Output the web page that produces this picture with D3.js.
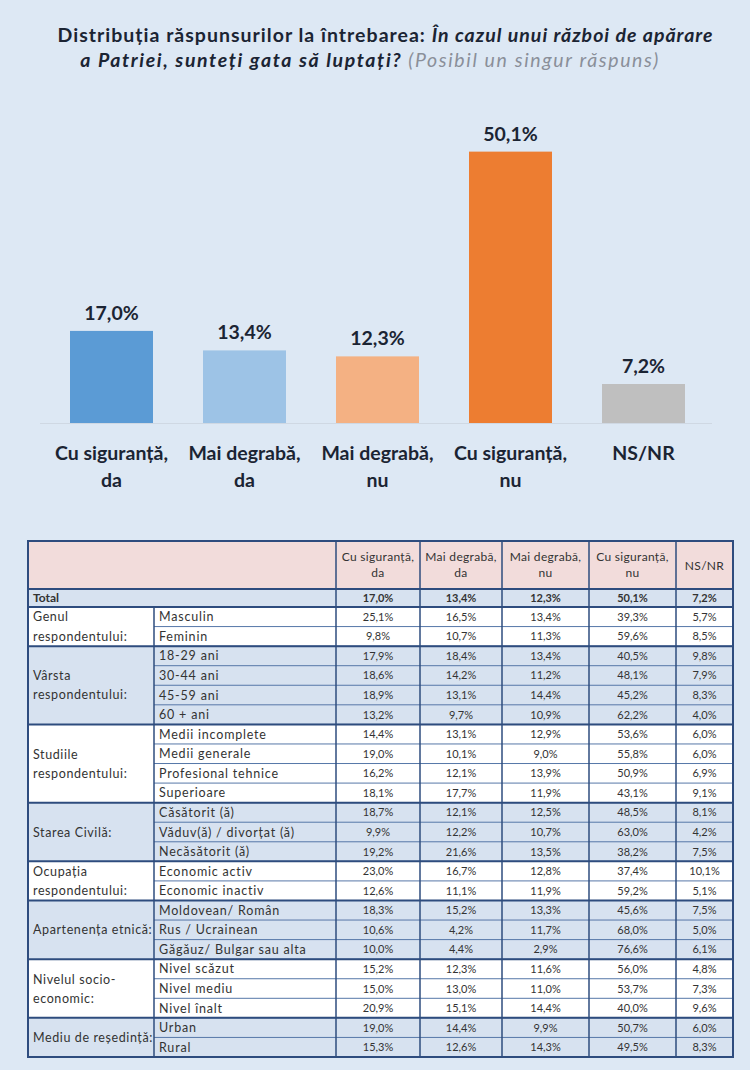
<!DOCTYPE html>
<html>
<head>
<meta charset="utf-8">
<script src="https://cdn.jsdelivr.net/npm/d3@7"></script>
<style>
  html, body { margin: 0; padding: 0; background: #dde8f4; }
  svg { display: block; font-family: Lato, "Noto Sans", sans-serif; }
</style>
</head>
<body>
<svg id="chart" width="750" height="1070"></svg>
<script>
// ---------- DATA ----------
const categories = [
  ["Cu siguranță,", "da"],
  ["Mai degrabă,", "da"],
  ["Mai degrabă,", "nu"],
  ["Cu siguranță,", "nu"],
  ["NS/NR"]
];
const totalValues = [17.0, 13.4, 12.3, 50.1, 7.2];
const barColors = ["#5b9bd5", "#9dc3e6", "#f4b183", "#ed7d31", "#bfbfbf"];

const groupNames = [
  ["Genul", "respondentului:"],
  ["Vârsta", "respondentului:"],
  ["Studiile", "respondentului:"],
  ["Starea Civilă:"],
  ["Ocupația", "respondentului:"],
  ["Apartenența etnică:"],
  ["Nivelul socio-", "economic:"],
  ["Mediu de reședință:"]
];
const groupSizes = [2, 4, 4, 3, 2, 3, 3, 2];
const rowLabels = [
  "Masculin", "Feminin",
  "18-29 ani", "30-44 ani", "45-59 ani", "60 + ani",
  "Medii incomplete", "Medii generale", "Profesional tehnice", "Superioare",
  "Căsătorit (ă)", "Văduv(ă) / divorțat (ă)", "Necăsătorit (ă)",
  "Economic activ", "Economic inactiv",
  "Moldovean/ Român", "Rus / Ucrainean", "Găgăuz/ Bulgar sau alta",
  "Nivel scăzut", "Nivel mediu", "Nivel înalt",
  "Urban", "Rural"
];
const sigurDa    = [25.1, 9.8, 17.9, 18.6, 18.9, 13.2, 14.4, 19.0, 16.2, 18.1, 18.7, 9.9, 19.2, 23.0, 12.6, 18.3, 10.6, 10.0, 15.2, 15.0, 20.9, 19.0, 15.3];
const degrabaDa  = [16.5, 10.7, 18.4, 14.2, 13.1, 9.7, 13.1, 10.1, 12.1, 17.7, 12.1, 12.2, 21.6, 16.7, 11.1, 15.2, 4.2, 4.4, 12.3, 13.0, 15.1, 14.4, 12.6];
const degrabaNu  = [13.4, 11.3, 13.4, 11.2, 14.4, 10.9, 12.9, 9.0, 13.9, 11.9, 12.5, 10.7, 13.5, 12.8, 11.9, 13.3, 11.7, 2.9, 11.6, 11.0, 14.4, 9.9, 14.3];
const sigurNu    = [39.3, 59.6, 40.5, 48.1, 45.2, 62.2, 53.6, 55.8, 50.9, 43.1, 48.5, 63.0, 38.2, 37.4, 59.2, 45.6, 68.0, 76.6, 56.0, 53.7, 40.0, 50.7, 49.5];
const nsNr       = [5.7, 8.5, 9.8, 7.9, 8.3, 4.0, 6.0, 6.0, 6.9, 9.1, 8.1, 4.2, 7.5, 10.1, 5.1, 7.5, 5.0, 6.1, 4.8, 7.3, 9.6, 6.0, 8.3];
const tableColumns = [sigurDa, degrabaDa, degrabaNu, sigurNu, nsNr];

// ---------- SETUP ----------
const svg = d3.select("#chart");
const loc = d3.formatLocale({decimal: ",", thousands: ".", grouping: [3], currency: ["", ""]});
const fmt = v => loc.format(".1f")(v) + "%";

// fit a text element's width by adjusting letter-spacing
function fitWidth(sel, target) {
  const node = sel.node();
  const w = node.getComputedTextLength();
  const n = node.textContent.length;
  if (n > 1) sel.style("letter-spacing", ((target - w) / (n - 1)) + "px");
}

// ---------- TITLE ----------
const title = svg.append("g").attr("fill", "#1b2433")
  .style("font-size", "19.5px").style("font-weight", "700");
const t1 = title.append("text").attr("x", 385.5).attr("y", 42).attr("text-anchor", "middle");
t1.append("tspan").text("Distribuția răspunsurilor la întrebarea: ");
t1.append("tspan").style("font-style", "italic").text("În cazul unui război de apărare");
fitWidth(t1, 655);
const t2 = title.append("text").attr("x", 370).attr("y", 67).attr("text-anchor", "middle");
t2.append("tspan").style("font-style", "italic").text("a Patriei, sunteți gata să luptați? ");
t2.append("tspan").style("font-style", "italic").style("font-weight", "400").attr("fill", "#8a8f99")
  .text("(Posibil un singur răspuns)");
fitWidth(t2, 578);

// ---------- BAR CHART ----------
const x = d3.scaleBand().domain(d3.range(categories.length)).range([45, 710])
  .paddingInner(0.376).paddingOuter(0.188);
const y = d3.scaleLinear().domain([0, 60]).range([423, 98]);

svg.append("line").attr("x1", 40).attr("x2", 712).attr("y1", y(0) + 0.5).attr("y2", y(0) + 0.5)
  .attr("stroke", "#cfd8e3").attr("stroke-width", 1);

svg.append("g").selectAll("rect").data(totalValues).join("rect")
  .attr("x", (d, i) => x(i)).attr("width", x.bandwidth())
  .attr("y", d => y(d)).attr("height", d => y(0) - y(d))
  .attr("fill", (d, i) => barColors[i]);

svg.append("g").selectAll("text").data(totalValues).join("text")
  .attr("x", (d, i) => x(i) + x.bandwidth() / 2).attr("y", d => y(d) - 11)
  .attr("text-anchor", "middle").attr("fill", "#1b2433")
  .style("font-size", "19.5px").style("font-weight", "700")
  .text(d => fmt(d));

const catG = svg.append("g").selectAll("text").data(categories).join("text")
  .attr("text-anchor", "middle").attr("fill", "#1b2433")
  .style("font-size", "19.5px").style("font-weight", "700");
catG.selectAll("tspan").data((d, i) => d.map(s => ({s, i}))).join("tspan")
  .attr("x", d => x(d.i) + x.bandwidth() / 2)
  .attr("y", (d, j) => 460 + j * 27)
  .text(d => d.s);

// ---------- TABLE ----------
const colX = [28, 154, 336, 420, 502, 589, 676, 733];
const headTop = 541, headBot = 589, totalBot = 607, tableBot = 1057;
const rowH = (tableBot - totalBot) / rowLabels.length;
const rowY = i => totalBot + i * rowH;
const tg = svg.append("g").style("font-size", "11px");
const blueRow = "#d7e2f0";
const darkLine = "#2e4c7e";
const thinLine = "#5677a8";
const textCol = "#333333";

// header bg
tg.append("rect").attr("x", colX[0]).attr("y", headTop).attr("width", colX[7] - colX[0])
  .attr("height", headBot - headTop).attr("fill", "#f2dcdb");
tg.append("rect").attr("x", colX[0]).attr("y", headBot).attr("width", colX[7] - colX[0])
  .attr("height", totalBot - headBot).attr("fill", blueRow);

// group backgrounds
let start = 0;
const groups = groupSizes.map((n, gi) => { const g = {gi, start, n}; start += n; return g; });
tg.selectAll("rect.grp").data(groups).join("rect").attr("class", "grp")
  .attr("x", colX[0]).attr("width", colX[7] - colX[0])
  .attr("y", g => rowY(g.start)).attr("height", g => g.n * rowH)
  .attr("fill", g => g.gi % 2 === 0 ? "#ffffff" : blueRow);

// inner row lines
tg.selectAll("line.row").data(d3.range(1, rowLabels.length)).join("line").attr("class", "row")
  .attr("x1", colX[1]).attr("x2", colX[7])
  .attr("y1", i => rowY(i)).attr("y2", i => rowY(i))
  .attr("stroke", thinLine).attr("stroke-width", 1);

// group lines
tg.selectAll("line.grp").data([headBot, totalBot].concat(groups.slice(1).map(g => rowY(g.start)))).join("line").attr("class", "grp")
  .attr("x1", colX[0]).attr("x2", colX[7])
  .attr("y1", d => d).attr("y2", d => d)
  .attr("stroke", darkLine).attr("stroke-width", 2);

// vertical lines
tg.append("line").attr("x1", colX[1]).attr("x2", colX[1]).attr("y1", totalBot).attr("y2", tableBot)
  .attr("stroke", darkLine).attr("stroke-width", 1.5);
tg.selectAll("line.col").data(colX.slice(2, 7)).join("line").attr("class", "col")
  .attr("x1", d => d).attr("x2", d => d).attr("y1", headTop).attr("y2", tableBot)
  .attr("stroke", darkLine).attr("stroke-width", 1.5);

// outer border
tg.append("rect").attr("x", colX[0]).attr("y", headTop).attr("width", colX[7] - colX[0])
  .attr("height", tableBot - headTop).attr("fill", "none").attr("stroke", darkLine).attr("stroke-width", 2);

// header text
const hdr = tg.selectAll("text.hdr").data(categories).join("text").attr("class", "hdr")
  .attr("text-anchor", "middle").attr("fill", textCol).style("font-size", "12px")
  .style("letter-spacing", "0.3px");
hdr.selectAll("tspan").data((d, i) => d.map((s, j) => ({s, i, j, n: d.length}))).join("tspan")
  .attr("x", d => (colX[d.i + 2] + colX[d.i + 3]) / 2)
  .attr("y", d => d.n === 1 ? 570 : 561 + d.j * 16)
  .text(d => d.s);

// total row
tg.append("text").attr("x", 33).attr("y", totalBot - 5).attr("fill", textCol)
  .style("font-weight", "700").style("font-size", "12px").text("Total");
tg.selectAll("text.tot").data(totalValues).join("text").attr("class", "tot")
  .attr("x", (d, i) => (colX[i + 2] + colX[i + 3]) / 2).attr("y", totalBot - 5)
  .attr("text-anchor", "middle").attr("fill", textCol).style("font-weight", "700")
  .text(d => fmt(d));

// group labels
const gl = tg.selectAll("text.gl").data(groups).join("text").attr("class", "gl")
  .attr("fill", textCol).style("font-size", "12.5px").style("letter-spacing", "0.6px");
gl.selectAll("tspan").data(g => groupNames[g.gi].map((s, j) => ({s, j, g, n: groupNames[g.gi].length}))).join("tspan")
  .attr("x", 33)
  .attr("y", d => {
    const mid = rowY(d.g.start) + d.g.n * rowH / 2;
    const lh = d.g.n === 2 ? rowH : 19;
    return mid + (d.j - (d.n - 1) / 2) * lh + 4.5;
  })
  .text(d => d.s);

// row labels
tg.selectAll("text.rl").data(rowLabels).join("text").attr("class", "rl")
  .attr("x", 159).attr("y", (d, i) => rowY(i) + rowH / 2 + 4.5)
  .attr("fill", textCol).style("font-size", "12.5px").style("letter-spacing", "0.8px")
  .text(d => d);

// values
tableColumns.forEach((col, ci) => {
  tg.selectAll("text.v" + ci).data(col).join("text").attr("class", "v" + ci)
    .attr("x", (colX[ci + 2] + colX[ci + 3]) / 2)
    .attr("y", (d, i) => rowY(i) + rowH / 2 + 4)
    .attr("text-anchor", "middle").attr("fill", textCol)
    .text(d => fmt(d));
});
</script>
</body>
</html>
